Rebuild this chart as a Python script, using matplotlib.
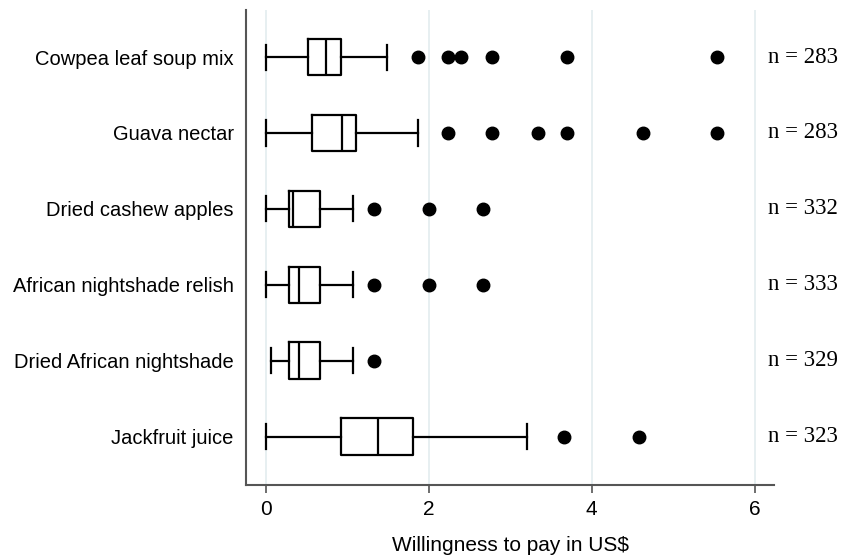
import matplotlib.pyplot as plt

# Values (US$)
products = ['Cowpea leaf soup mix', 'Guava nectar', 'Dried cashew apples',
            'African nightshade relish', 'Dried African nightshade', 'Jackfruit juice']
n_obs = [283, 283, 332, 333, 329, 323]
whis_lo = [0.0, 0.0, 0.0, 0.0, 0.06, 0.0]
q1 = [0.52, 0.56, 0.28, 0.28, 0.28, 0.92]
median = [0.74, 0.93, 0.33, 0.40, 0.40, 1.37]
q3 = [0.92, 1.11, 0.66, 0.66, 0.66, 1.81]
whis_hi = [1.48, 1.86, 1.07, 1.07, 1.07, 3.20]
outliers = [
    [1.86, 2.23, 2.40, 2.78, 3.70, 5.54],
    [2.23, 2.78, 3.34, 3.70, 4.63, 5.54],
    [1.33, 2.00, 2.67],
    [1.33, 2.00, 2.67],
    [1.33],
    [3.66, 4.58],
]

stats = []
for i, name in enumerate(products):
    stats.append({'label': name, 'whislo': whis_lo[i], 'q1': q1[i], 'med': median[i],
                  'q3': q3[i], 'whishi': whis_hi[i], 'fliers': outliers[i]})

fig = plt.figure(figsize=(8.46, 5.57), dpi=100)
ax = fig.add_axes([0.291, 0.129, 0.624, 0.853])

positions = list(range(1, len(products) + 1))
line = dict(color='black', linewidth=1.6)
ax.bxp(stats, positions=positions, vert=False, widths=0.48, capwidths=0.33,
       boxprops=line, whiskerprops=line, capprops=line, medianprops=line,
       flierprops=dict(marker='o', markerfacecolor='black', markeredgecolor='black',
                       markersize=9, linestyle='none'))

ax.set_ylim(6.64, 0.38)
ax.set_xlim(-0.245, 6.24)
ax.set_xticks([0, 2, 4, 6])
ax.set_yticks(positions)
ax.set_yticklabels(products, fontsize=14.5, family='Liberation Sans')
for lab in ax.get_xticklabels():
    lab.set_fontsize(15)
    lab.set_family('Liberation Sans')
ax.tick_params(axis='y', length=0, pad=9)
ax.tick_params(axis='x', length=6, width=1.2, color='#555555', pad=5)

ax.grid(axis='x', color='#e3ecef', linewidth=1.2)
ax.set_axisbelow(True)
for side in ['top', 'right']:
    ax.spines[side].set_visible(False)
for side in ['left', 'bottom']:
    ax.spines[side].set_color('#555555')
    ax.spines[side].set_linewidth(1.5)

for pos, n in zip(positions, n_obs):
    ax.text(6.17, pos, f'n = {n}', va='center', ha='left', fontsize=16.5,
            family='Liberation Serif', clip_on=False)

ax.set_xlabel('Willingness to pay in US$', fontsize=15, family='Liberation Sans', labelpad=12)

fig.savefig('out.png', dpi=100)
